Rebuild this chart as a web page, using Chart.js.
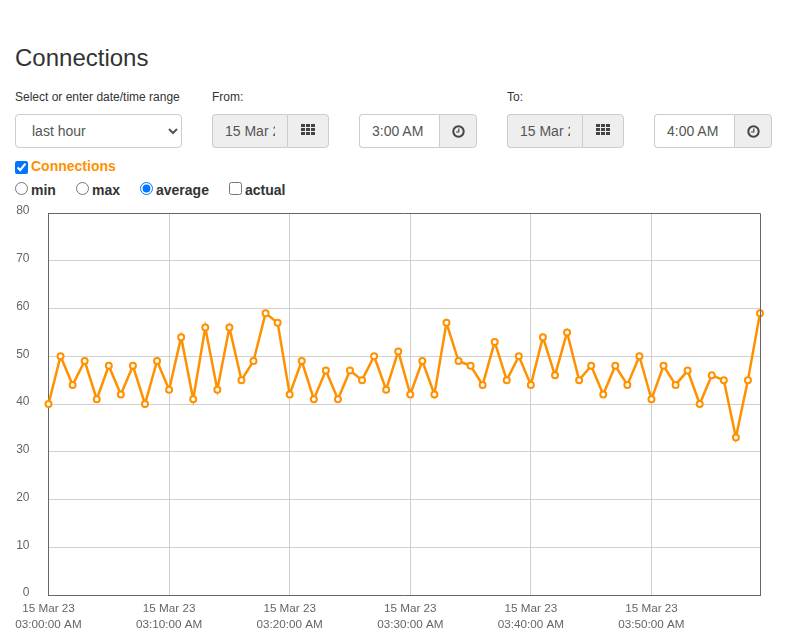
<!DOCTYPE html>
<html lang="en">
<head>
    <meta charset="UTF-8">
    <title>Connections</title>
    <script src="https://cdn.jsdelivr.net/npm/chart.js"></script>
    <style>
        html, body { margin: 0; padding: 0; background: #fff; overflow: hidden; }
        body { font-family: "Liberation Sans", Arial, sans-serif; color: #333; width: 787px; height: 634px; position: relative; }
        body > * { position: absolute; box-sizing: border-box; }
        h1 { margin: 0; left: 15px; top: 44px; font-size: 24px; line-height: 28px; font-weight: 400; color: #333; }
        .lbl { top: 90px; font-size: 12px; line-height: 14px; color: #333; }
        select { left: 15px; top: 114px; width: 167px; height: 34px; padding: 0 12px; font: 14px "Liberation Sans", Arial, sans-serif; color: #555; background: #fff; border: 1px solid #ccc; border-radius: 4px; }
        .field { top: 114px; height: 34px; padding: 0 12px; font: 14px "Liberation Sans", Arial, sans-serif; color: #555; background: #fff; border: 1px solid #ccc; border-right: 0; border-radius: 4px 0 0 4px; outline: none; }
        .field.date { background: #eee; }
        .addon { top: 114px; height: 34px; background: #eee; border: 1px solid #ccc; border-radius: 0 4px 4px 0; display: flex; align-items: center; justify-content: center; }
        .opt { font-size: 14px; line-height: 16px; font-weight: 700; color: #333; }
        input[type=radio], input[type=checkbox] { margin: 0; width: 13px; height: 13px; }
        #chartBox { left: 0; top: 205px; width: 787px; height: 429px; }
    </style>
</head>
<body>
    <h1>Connections</h1>

    <div class="lbl" style="left:15px">Select or enter date/time range</div>
    <div class="lbl" style="left:212px">From:</div>
    <div class="lbl" style="left:507px">To:</div>

    <select><option>last hour</option></select>

    <input class="field date" style="left:212px;width:75px" value="15 Mar 2023" readonly>
    <div class="addon" style="left:287px;width:42px"><svg width="14" height="12" style="margin-top:-3px"><use href="#gridIcon"/></svg></div>
    <input class="field" style="left:359px;width:80px" value="3:00 AM" readonly>
    <div class="addon" style="left:439px;width:38px"><svg width="13" height="13"><use href="#clockIcon"/></svg></div>

    <input class="field date" style="left:507px;width:75px" value="15 Mar 2023" readonly>
    <div class="addon" style="left:582px;width:42px"><svg width="14" height="12" style="margin-top:-3px"><use href="#gridIcon"/></svg></div>
    <input class="field" style="left:654px;width:80px" value="4:00 AM" readonly>
    <div class="addon" style="left:734px;width:38px"><svg width="13" height="13"><use href="#clockIcon"/></svg></div>

    <svg width="0" height="0" style="left:0;top:0">
        <defs>
            <g id="gridIcon" fill="#444">
                <rect x="0" y="0" width="4" height="3"/><rect x="5" y="0" width="4" height="3"/><rect x="10" y="0" width="4" height="3"/>
                <rect x="0" y="4" width="4" height="3"/><rect x="5" y="4" width="4" height="3"/><rect x="10" y="4" width="4" height="3"/>
                <rect x="0" y="8" width="4" height="3"/><rect x="5" y="8" width="4" height="3"/><rect x="10" y="8" width="4" height="3"/>
            </g>
            <g id="clockIcon">
                <circle cx="6.5" cy="6.5" r="5.2" fill="none" stroke="#444" stroke-width="2"/>
                <path d="M6.8 3.5V7H4" fill="none" stroke="#444" stroke-width="1.2"/>
            </g>
        </defs>
    </svg>

    <input type="checkbox" checked style="left:15px;top:161px">
    <div class="opt" style="left:31px;top:158px;color:#ff9100">Connections</div>

    <input type="radio" name="mode" style="left:15px;top:182px">
    <div class="opt" style="left:31px;top:182px">min</div>
    <input type="radio" name="mode" style="left:76px;top:182px">
    <div class="opt" style="left:92px;top:182px">max</div>
    <input type="radio" name="mode" checked style="left:140px;top:182px">
    <div class="opt" style="left:156px;top:182px">average</div>
    <input type="checkbox" style="left:229px;top:182px">
    <div class="opt" style="left:245px;top:182px">actual</div>

    <div id="chartBox"><canvas id="connChart" width="787" height="429"></canvas></div>

    <script>
        // one sample per minute, 03:00 to 03:59
        const averageValues = [
            40, 50, 44, 49, 41, 48, 42, 48, 40, 49,
            43, 54, 41, 56, 43, 56, 45, 49, 59, 57,
            42, 49, 41, 47, 41, 47, 45, 50, 43, 51,
            42, 49, 42, 57, 49, 48, 44, 53, 45, 50,
            44, 54, 46, 55, 45, 48, 42, 48, 44, 50,
            41, 48, 44, 47, 40, 46, 45, 33, 45, 59
        ];
        const tickDates = ['15 Mar 23', '15 Mar 23', '15 Mar 23', '15 Mar 23', '15 Mar 23', '15 Mar 23'];
        const tickTimes = ['03:00:00 AM', '03:10:00 AM', '03:20:00 AM', '03:30:00 AM', '03:40:00 AM', '03:50:00 AM'];
        const tickEvery = 10;

        const lineColor = '#ff9100';
        const frameColor = '#666';
        const gridColor = '#d0d0d0';

        // right and top edges of the plot
        const plotFrame = {
            id: 'plotFrame',
            afterDatasetsDraw(chart) {
                const { ctx, chartArea: a } = chart;
                ctx.save();
                ctx.strokeStyle = frameColor;
                ctx.lineWidth = 1;
                ctx.beginPath();
                ctx.moveTo(a.left, Math.floor(a.top) + 0.5);
                ctx.lineTo(Math.floor(a.right) + 0.5, Math.floor(a.top) + 0.5);
                ctx.lineTo(Math.floor(a.right) + 0.5, a.bottom);
                ctx.stroke();
                ctx.restore();
            }
        };

        new Chart(document.getElementById('connChart').getContext('2d'), {
            type: 'line',
            data: {
                labels: averageValues.map((_, i) => i),
                datasets: [{
                    label: 'Connections',
                    data: averageValues,
                    borderColor: lineColor,
                    borderWidth: 2.5,
                    tension: 0,
                    pointRadius: 3,
                    pointBorderWidth: 2,
                    pointBorderColor: lineColor,
                    pointBackgroundColor: '#fff',
                    clip: false
                }]
            },
            plugins: [plotFrame],
            options: {
                responsive: false,
                animation: false,
                events: [],
                layout: { padding: { top: 8, right: 27, bottom: 0, left: 0 } },
                plugins: { legend: { display: false }, tooltip: { enabled: false } },
                scales: {
                    x: {
                        afterFit: (scale) => {
                            scale.height = 39;
                            scale.paddingLeft = 0;
                            scale.paddingRight = 0;
                        },
                        grid: { color: gridColor, drawTicks: false },
                        border: { color: frameColor },
                        ticks: {
                            autoSkip: false,
                            maxRotation: 0,
                            minRotation: 0,
                            padding: 5,
                            color: '#666',
                            font: { family: '"Liberation Sans"', size: 11.7, lineHeight: 1.43 },
                            callback: (value, index) => index % tickEvery === 0
                                ? [tickDates[index / tickEvery], tickTimes[index / tickEvery]]
                                : null
                        }
                    },
                    y: {
                        min: 0,
                        max: 80,
                        afterFit: (scale) => {
                            scale.width = 48.5;
                            scale.paddingTop = 0;
                            scale.paddingBottom = 0;
                        },
                        grid: { color: gridColor, drawTicks: false },
                        border: { color: frameColor },
                        ticks: {
                            stepSize: 10,
                            padding: 19,
                            labelOffset: -2,
                            color: '#666',
                            font: { family: '"Liberation Sans"', size: 12 }
                        }
                    }
                }
            }
        });
    </script>
</body>
</html>
